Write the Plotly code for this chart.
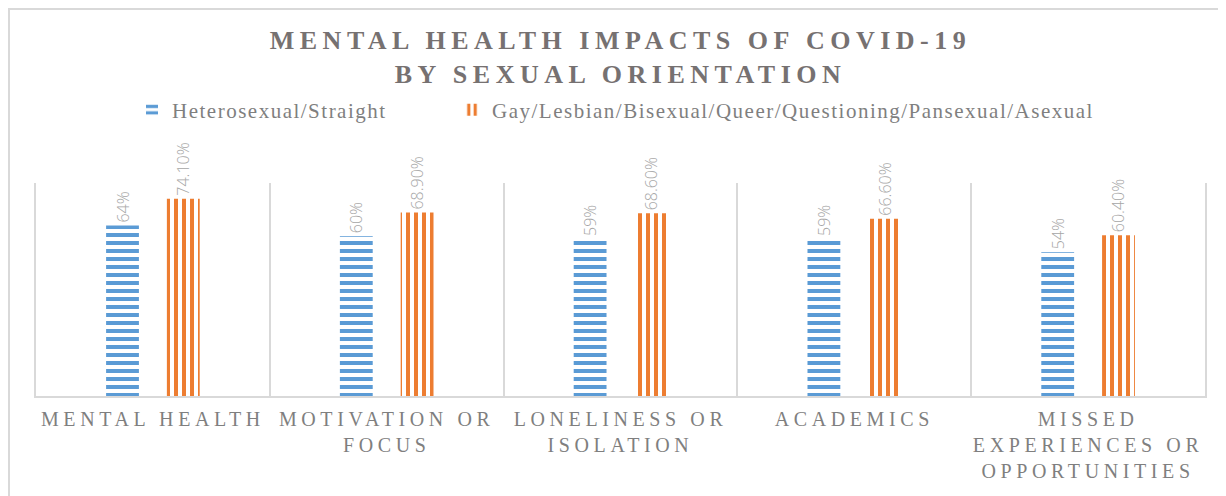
import plotly.graph_objects as go

categories = [
    "MENTAL HEALTH",
    "MOTIVATION OR<br>FOCUS",
    "LONELINESS OR<br>ISOLATION",
    "ACADEMICS",
    "MISSED<br>EXPERIENCES OR<br>OPPORTUNITIES",
]
straight_name = "Heterosexual/Straight"
lgbtq_name = "Gay/Lesbian/Bisexual/Queer/Questioning/Pansexual/Asexual"
straight_values = [0.64, 0.60, 0.59, 0.59, 0.54]
lgbtq_values = [0.741, 0.689, 0.686, 0.666, 0.604]

BLUE = "#5b9bd5"
ORANGE = "#ed7d31"
GRAY = "#7f7f7f"
LABEL_GRAY = "#a6a6a6"
SERIF = "Liberation Serif"

W, H = 1226, 496
L, R, T, B = 28, 29, 175, 108
PW, PH = W - L - R, H - T - B


def spaced(text, px):
    return f'<span style="letter-spacing:{px}px">{text}</span>'


tick_text = ["<br>".join(spaced(part, 4.6) for part in c.split("<br>")) for c in categories]

fig = go.Figure()
fig.add_trace(go.Bar(
    x=categories, y=straight_values, name=spaced(straight_name, 1.5),
    legend="legend", showlegend=True,
    marker=dict(color=BLUE, line=dict(width=0),
                pattern=dict(shape="-", size=8, solidity=0.5,
                             fgcolor=BLUE, bgcolor="white", fillmode="replace")),
    texttemplate="%{y:.0%}", textposition="outside", textangle=-90,
    textfont=dict(family="Open Sans", size=16, color=LABEL_GRAY, weight=300),
    cliponaxis=False, constraintext="none",
))
fig.add_trace(go.Bar(
    x=categories, y=lgbtq_values, name=spaced(lgbtq_name, 1.5),
    legend="legend2", showlegend=True,
    marker=dict(color=ORANGE, line=dict(width=0),
                pattern=dict(shape="|", size=8, solidity=0.5,
                             fgcolor=ORANGE, bgcolor="white", fillmode="replace")),
    texttemplate="%{y:.2%}", textposition="outside", textangle=-90,
    textfont=dict(family="Open Sans", size=16, color=LABEL_GRAY, weight=300),
    cliponaxis=False, constraintext="none",
))

legend_common = dict(
    visible=True, orientation="h", yref="container", y=1 - 102 / H, yanchor="middle",
    xref="container", xanchor="left",
    font=dict(family=SERIF, size=21, color=GRAY),
    itemwidth=30, bgcolor="rgba(0,0,0,0)",
)

fig.update_layout(
    width=W, height=H, showlegend=True,
    margin=dict(l=L, r=R, t=T, b=B, autoexpand=False),
    paper_bgcolor="white", plot_bgcolor="white",
    barmode="group", bargap=0.48, bargroupgap=0.46,
    title=dict(
        text=spaced("<b>MENTAL HEALTH IMPACTS OF COVID-19</b>", 5.5) + "<br>" +
             spaced("<b>BY SEXUAL ORIENTATION</b>", 5.5),
        x=0.5, xanchor="center", xref="paper",
        y=1 - 41 / H, yanchor="top", yref="container",
        font=dict(family=SERIF, size=26, color="#767171"),
    ),
    legend=dict(legend_common, x=124 / W),
    legend2=dict(legend_common, x=444 / W),
    xaxis=dict(
        tickmode="array", tickvals=categories, ticktext=tick_text,
        tickangle=0, tickson="boundaries", ticks="", automargin=False,
        ticklabelstandoff=4,
        showgrid=True, gridcolor="#d9d9d9", gridwidth=2,
        showline=True, linecolor="#d9d9d9", linewidth=2,
        tickfont=dict(family=SERIF, size=20, color=GRAY),
        range=[-0.5, 4.5],
    ),
    yaxis=dict(
        range=[0, 0.8], visible=True, showticklabels=False, ticks="",
        showgrid=False, zeroline=False, automargin=False,
        showline=True, mirror=True, linecolor="#d9d9d9", linewidth=2,
    ),
    shapes=[dict(
        type="rect", xref="paper", yref="paper",
        x0=(1 - L) / PW, x1=(W + 20 - L) / PW,
        y0=(H - B - H - 20) / PH, y1=(H - B - 1) / PH,
        line=dict(color="#d9d9d9", width=2), fillcolor="rgba(0,0,0,0)",
        layer="below",
    )],
)

fig.write_html("out.html")
